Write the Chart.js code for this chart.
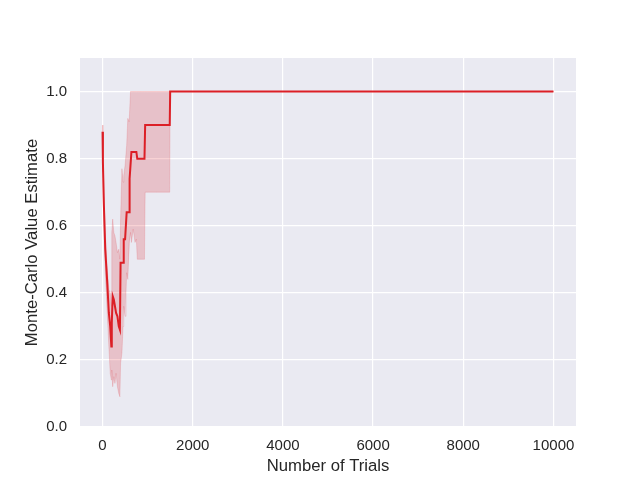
<!DOCTYPE html>
<html>
<head>
<meta charset="utf-8">
<script src="https://cdn.jsdelivr.net/npm/chart.js@4/dist/chart.umd.min.js"></script>
<style>
  html, body { margin: 0; padding: 0; background: #ffffff; }
  #wrap { width: 640px; height: 480px; }
</style>
</head>
<body>
<div id="wrap"><canvas id="mc"></canvas></div>
<script>
"use strict";

// number of trials (shared x values)
const trials = [0, 8, 30, 60, 100, 140, 170, 195, 205, 225,
    250, 275, 300, 330, 360, 385, 400, 430, 455, 470,
    500, 520, 535, 560, 590, 600, 620, 640, 680, 720,
    750, 770, 800, 850, 900, 930, 945, 1000, 1200, 1490,
    1500, 3000, 10000]

// mean monte-carlo estimate
const meanEst = [0.88, 0.79, 0.66, 0.53, 0.44, 0.34, 0.30, 0.24, 0.31, 0.39,
    0.38, 0.36, 0.34, 0.33, 0.30, 0.29, 0.49, 0.49, 0.49, 0.56,
    0.56, 0.56, 0.64, 0.64, 0.64, 0.74, 0.78, 0.82, 0.82, 0.82,
    0.82, 0.80, 0.80, 0.80, 0.80, 0.80, 0.90, 0.90, 0.90, 0.90,
    1.0, 1.0, 1.0]

// confidence band
const upperEst = [0.90, 0.84, 0.70, 0.58, 0.48, 0.41, 0.40, 0.36, 0.58, 0.62,
    0.58, 0.57, 0.55, 0.52, 0.53, 0.50, 0.62, 0.77, 0.73, 0.75,
    0.78, 0.78, 0.84, 0.92, 0.91, 0.91, 1.0, 1.0, 1.0, 1.0,
    1.0, 1.0, 1.0, 1.0, 1.0, 1.0, 1.0, 1.0, 1.0, 1.0,
    1.0, 1.0, 1.0]
const lowerEst = [0.79, 0.76, 0.60, 0.46, 0.35, 0.24, 0.16, 0.14, 0.17, 0.12,
    0.15, 0.13, 0.16, 0.12, 0.10, 0.09, 0.19, 0.22, 0.30, 0.36,
    0.33, 0.40, 0.46, 0.44, 0.55, 0.55, 0.58, 0.55, 0.59, 0.55,
    0.56, 0.50, 0.50, 0.50, 0.50, 0.50, 0.70, 0.70, 0.70, 0.70,
    1.0, 1.0, 1.0]

// tick labels
const xTicks = [0, 2000, 4000, 6000, 8000, 10000]
const yTicks = [0.0, 0.2, 0.4, 0.6, 0.8, 1.0]

const lineRed = '#dc1f26'
const font = 'Liberation Sans, Arial, DejaVu Sans, sans-serif'

const toPts = arr => trials.map((t, i) => ({ x: t, y: arr[i] }))

// seaborn darkgrid background behind the plot
const bgPlugin = {
    id: 'darkgrid',
    beforeDraw(chart) {
        const { ctx, chartArea: a } = chart
        ctx.save()
        ctx.fillStyle = '#ffffff'
        ctx.fillRect(0, 0, chart.width, chart.height)
        ctx.fillStyle = '#eaeaf2'
        ctx.fillRect(a.left, a.top, a.right - a.left, a.bottom - a.top)
        ctx.restore()
    }
}

new Chart(document.getElementById('mc'), {
    type: 'line',
    data: {
        datasets: [
            {
                label: 'mean',
                data: toPts(meanEst),
                borderColor: lineRed,
                borderWidth: 2,
                pointRadius: 0,
                fill: false,
                order: 0
            },
            {
                label: 'upper',
                data: toPts(upperEst),
                borderColor: 'rgba(220,31,38,0.15)',
                borderWidth: 1,
                pointRadius: 0,
                backgroundColor: 'rgba(220,31,38,0.2)',
                fill: '+1',
                order: 1
            },
            {
                label: 'lower',
                data: toPts(lowerEst),
                borderColor: 'rgba(220,31,38,0.15)',
                borderWidth: 1,
                pointRadius: 0,
                fill: false,
                order: 2
            }
        ]
    },
    options: {
        responsive: true,
        maintainAspectRatio: false,
        animation: false,
        layout: { padding: { left: 0, right: 64, top: 58, bottom: 0 } },
        plugins: {
            legend: { display: false },
            tooltip: { enabled: false }
        },
        scales: {
            x: {
                type: 'linear',
                min: -500,
                max: 10500,
                afterBuildTicks: s => { s.ticks = xTicks.map(v => ({ value: v })) },
                afterFit: s => { s.height = 53 },
                border: { display: false },
                grid: { color: '#ffffff', lineWidth: 1.2, drawTicks: false },
                ticks: {
                    padding: 10,
                    color: '#262626',
                    font: { family: font, size: 15 },
                    callback: v => String(v),
                    maxRotation: 0
                },
                title: {
                    display: true,
                    text: 'Number of Trials',
                    color: '#262626',
                    font: { family: font, size: 16.7 },
                    padding: { top: 0, bottom: 4 }
                }
            },
            y: {
                type: 'linear',
                min: 0,
                max: 1.1,
                afterBuildTicks: s => { s.ticks = yTicks.map(v => ({ value: v })) },
                afterFit: s => { s.width = 80 },
                border: { display: false },
                grid: { color: '#ffffff', lineWidth: 1.2, drawTicks: false },
                ticks: {
                    padding: 13,
                    color: '#262626',
                    font: { family: font, size: 15 },
                    callback: v => v.toFixed(1)
                },
                title: {
                    display: true,
                    text: 'Monte-Carlo Value Estimate',
                    color: '#262626',
                    font: { family: font, size: 16.7 },
                    padding: { top: 22, bottom: 0 }
                }
            }
        }
    },
    plugins: [bgPlugin]
})
</script>
</body>
</html>
